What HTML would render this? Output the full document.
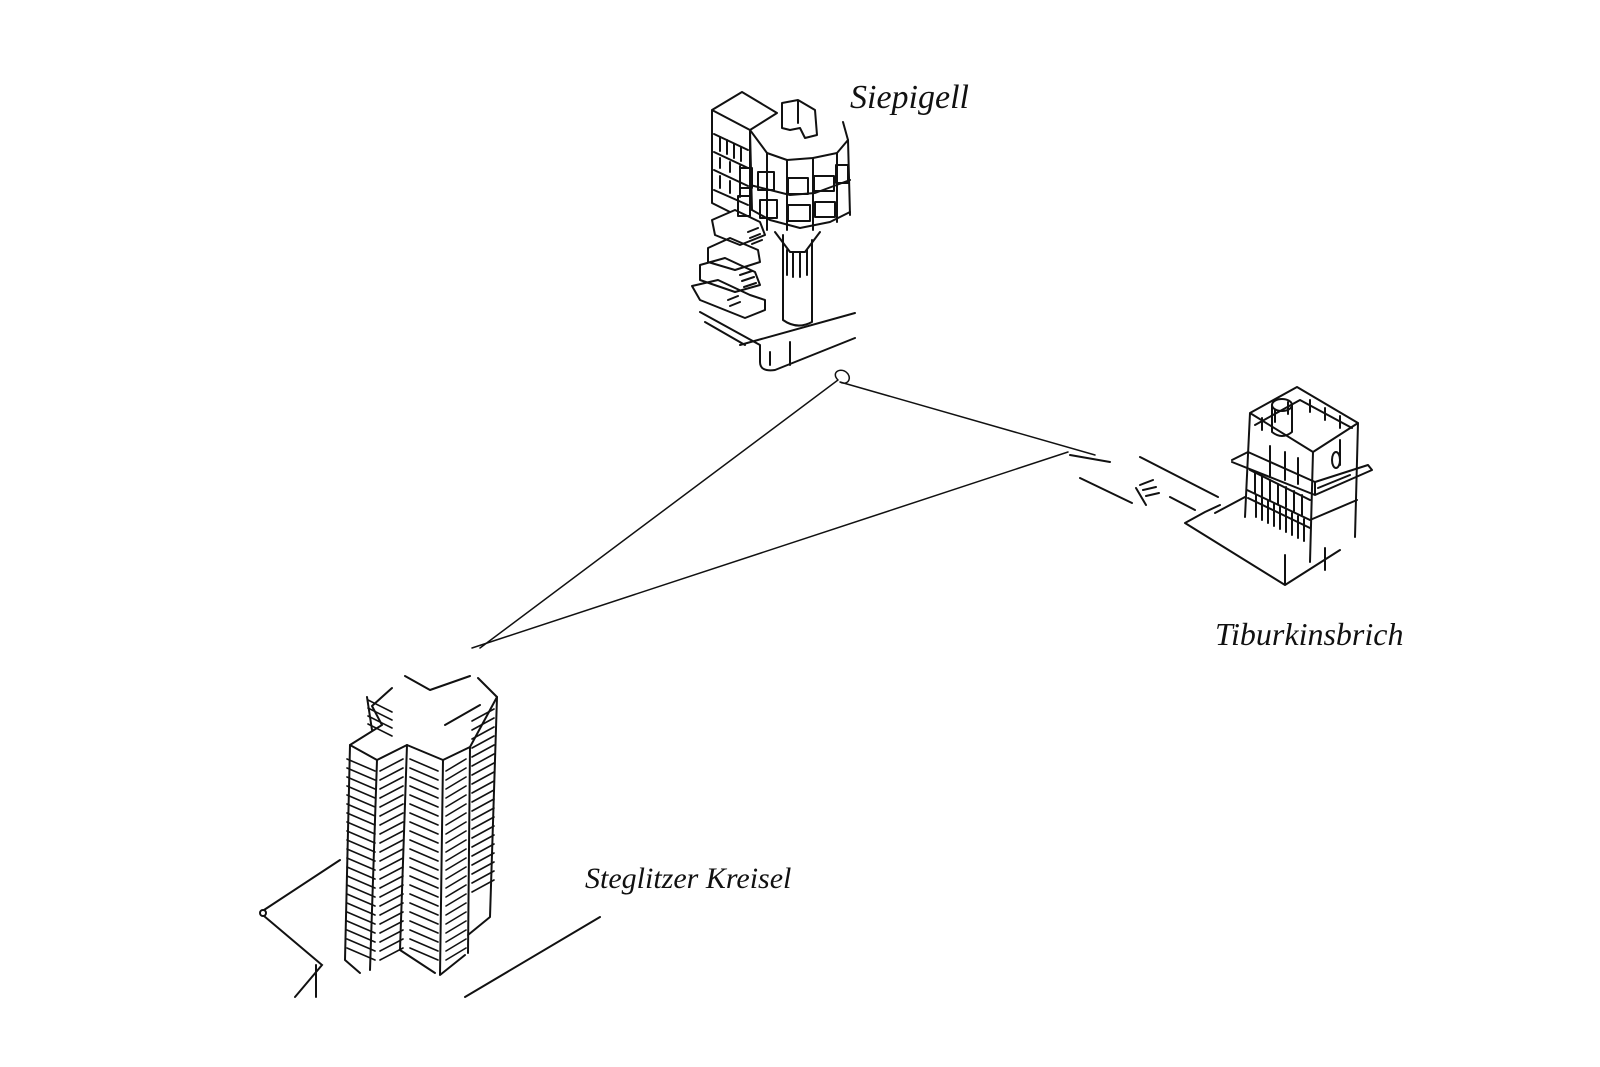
<!DOCTYPE html>
<html><head><meta charset="utf-8"><style>
html,body{margin:0;padding:0;background:#fff;}
svg{display:block;}
text{font-family:"Liberation Serif",serif;font-style:italic;fill:#111;}
</style></head><body>
<svg width="1600" height="1067" viewBox="0 0 1600 1067" xmlns="http://www.w3.org/2000/svg">
<g fill="none" stroke="#111" stroke-width="2" stroke-linecap="round" stroke-linejoin="round">
<!-- connecting lines -->
<path d="M480,648 L838,380 C830,372 842,366 848,374 C852,380 846,386 840,382 L1095,455" stroke-width="1.5"/>
<path d="M472,648 L1068,452" stroke-width="1.5"/>
<path d="M1070,455 L1110,462 M1080,478 L1132,503 M1136,488 L1146,505 M1140,485 L1153,480 M1143,490 L1156,487 M1146,496 L1159,493 M1140,457 L1218,497 M1170,497 L1195,510"/>

<!-- TOP BUILDING -->
<path d="M712,110 L742,92 L777,113 L750,130 Z M712,110 L712,203 L730,212 M750,130 L750,208"/>
<path d="M714,134 L748,150 M714,152 L748,168 M714,170 L748,186 M714,190 L748,205"/>
<path d="M720,137 v14 M727,140 v14 M734,144 v14 M741,147 v14 M720,158 v10 M730,162 v10 M740,166 v10 M720,176 v12 M730,181 v12 M740,185 v12"/>
<path d="M750,130 L767,153 L787,160 L813,158 L837,153 L848,140 L843,122"/>
<path d="M767,153 L767,230 M787,160 L787,230 M813,158 L813,230 M837,153 L837,222 M848,140 L850,215 M750,130 L752,210"/>
<path d="M750,185 L790,195 L815,193 L850,180 M752,210 L770,220 L800,228 L830,222 L850,212"/>
<rect x="758" y="172" width="16" height="18"/><rect x="788" y="178" width="20" height="16"/><rect x="814" y="176" width="20" height="15"/>
<rect x="760" y="200" width="17" height="18"/><rect x="788" y="205" width="22" height="16"/><rect x="815" y="202" width="20" height="15"/>
<rect x="740" y="168" width="12" height="20"/><rect x="738" y="196" width="12" height="20"/><rect x="836" y="165" width="12" height="18"/>
<path d="M782,103 L798,100 L815,110 L817,135 L805,138 L800,128 L790,130 L782,128 Z M798,100 L798,123"/>
<path d="M783,235 L783,320 Q797,330 812,322 L812,240 M775,232 L790,252 L805,252 L820,232 M787,250 v25 M793,252 v25 M800,252 v25 M807,250 v25"/>
<path d="M712,220 L735,210 L760,222 L765,235 L740,245 L715,235 Z M708,248 L730,238 L758,250 L760,262 L735,270 L708,262 Z M700,265 L725,258 L755,272 L760,285 L735,292 L700,280 Z M692,286 L718,280 L750,295 L765,300 L765,310 L745,318 L700,300 Z"/>
<path d="M748,232 l10,-4 M750,238 l10,-4 M752,244 l10,-4 M740,275 l12,-4 M742,281 l12,-4 M744,287 l12,-4 M728,300 l10,-4 M730,306 l10,-4"/>
<path d="M700,312 L760,345 L760,362 Q760,372 775,370 L855,338 M705,322 L745,345 M740,345 L855,313 M770,365 L770,352 M790,342 L790,365"/>

<!-- RIGHT BUILDING -->
<path d="M1250,413 L1297,387 L1358,423 L1313,452 Z M1250,413 L1245,517 M1313,452 L1310,562 M1358,423 L1355,537"/>
<path d="M1255,425 L1300,400 L1352,428 M1262,418 l0,12 M1275,410 l0,12 M1288,402 l0,12 M1310,400 l0,12 M1325,408 l0,12 M1340,416 l0,12"/>
<ellipse cx="1282" cy="405" rx="10" ry="6"/><path d="M1272,405 L1272,432 Q1282,440 1292,432 L1292,405"/>
<path d="M1232,460 L1248,452 L1315,482 L1368,465 L1372,470 L1315,495 L1232,462 M1315,482 L1315,495"/>
<path d="M1250,470 L1310,500 M1247,490 L1310,520 M1248,498 L1310,528 M1310,520 L1357,500 M1318,488 L1350,475"/>
<path d="M1255,473 v20 M1262,476 v20 M1270,480 v20 M1278,484 v20 M1286,487 v20 M1294,491 v20 M1302,495 v20 M1256,495 v22 M1262,498 v22 M1268,501 v22 M1274,504 v22 M1280,507 v22 M1286,510 v22 M1292,513 v22 M1298,516 v22 M1304,519 v22"/>
<ellipse cx="1336" cy="460" rx="4" ry="8"/>
<path d="M1270,446 v30 M1285,452 v28 M1298,458 v26 M1340,440 v25"/>
<path d="M1185,523 L1285,585 L1340,550 M1285,585 L1285,555 M1245,497 L1215,513 M1185,523 L1205,512 L1220,505 M1325,548 L1325,570"/>

<!-- BOTTOM TOWER -->
<path d="M350,745 L377,760 L407,745 L443,760 L470,747 L497,697 M350,745 L382,725 L372,706 L392,688 M405,676 L430,690 L470,676 M478,678 L497,697 M445,725 L480,705 M367,697 L372,730"/>
<path d="M350,745 L345,960 L360,973 M377,760 L370,970 M407,745 L400,950 L435,973 M443,760 L440,975 L465,955 M470,747 L468,953 M497,697 L490,917 L468,935"/>
</g>
<g id="hatch" fill="none" stroke="#111" stroke-width="1.6" stroke-linecap="round"></g>
<g fill="none" stroke="#111" stroke-width="2" stroke-linecap="round">
<!-- ground -->
<path d="M340,860 L264,910 M264,916 L322,965 L295,997 M316,965 L316,997 M600,917 L465,997"/>
<circle cx="263" cy="913" r="3"/>
</g>
<text x="850" y="108" font-size="34">Siepigell</text>
<text x="1215" y="645" font-size="32">Tiburkinsbrich</text>
<text x="585" y="888" font-size="30">Steglitzer Kreisel</text>
</svg>
<script>
var g=document.getElementById('hatch'),s='';
for(var i=0;i<22;i++){
 var y=765+i*9;
 s+='M347,'+(y-6)+' L375,'+(y+6)+' ';
 s+='M380,'+(y+6)+' L403,'+(y-6)+' ';
 s+='M410,'+(y-6)+' L438,'+(y+6)+' ';
 s+='M446,'+(y+6)+' L466,'+(y-6)+' ';
 if(i<20) s+='M472,'+(y-44)+' L494,'+(y-56)+' ';
}
for(var j=0;j<4;j++){var y=700+j*8;s+='M368,'+(y)+' L392,'+(y+12)+' ';}
var p=document.createElementNS('http://www.w3.org/2000/svg','path');p.setAttribute('d',s);g.appendChild(p);
</script>
</body></html>
